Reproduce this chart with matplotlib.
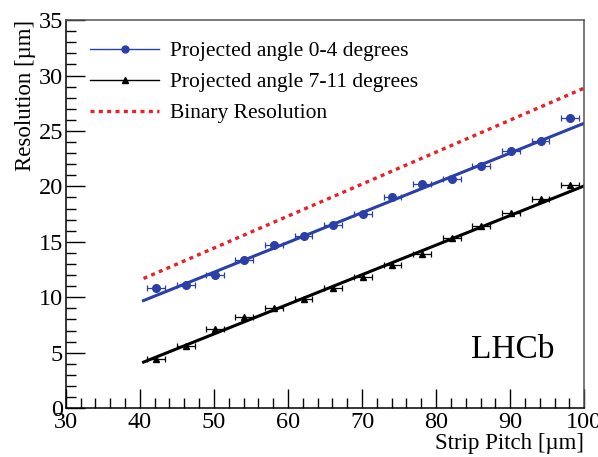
import matplotlib
matplotlib.use("Agg")
import numpy as np
from matplotlib import pyplot as plt
from matplotlib.ticker import MultipleLocator

plt.rcParams['font.family'] = ['Liberation Serif', 'DejaVu Serif']
plt.rcParams['mathtext.fontset'] = 'stix'

# data
pitch = [42.2, 46.2, 50.1, 54.1, 58.1, 62.1, 66.1, 70.1, 74.1, 78.1, 82.1, 86.1, 90.1, 94.1, 98.1]
res_0_4 = [10.8, 11.1, 12.0, 13.4, 14.7, 15.5, 16.5, 17.5, 19.0, 20.2, 20.7, 21.8, 23.2, 24.1, 26.2]
res_7_11 = [4.4, 5.6, 7.1, 8.2, 9.0, 9.8, 10.8, 11.8, 12.9, 13.9, 15.3, 16.4, 17.6, 18.9, 20.1]
pitch_err = [1.2] * 15

fit_x = [40.5, 100.0]
fit_0_4 = [9.7, 25.7]
fit_7_11 = [4.15, 20.05]
binary_res = [11.69, 28.87]

blue = "#2b3fa8"

fig = plt.figure(figsize=(5.98, 4.57), dpi=100)
ax = fig.add_axes([0.110, 0.107, 0.867, 0.849])

ax.plot(fit_x, binary_res, color="#e8202a", lw=2.4, ls=(0, (1.2, 1.3)))
ax.plot(fit_x, fit_0_4, color=blue, lw=2.2)
ax.plot(fit_x, fit_7_11, color="black", lw=2.2)
ax.errorbar(pitch, res_0_4, xerr=pitch_err, fmt="o", color=blue, ms=5.5,
            elinewidth=0.9, capsize=2, capthick=0.9)
ax.errorbar(pitch, res_7_11, xerr=pitch_err, fmt="^", color="black", ms=4.5,
            elinewidth=0.9, capsize=2, capthick=0.9)

# legend handles
h1, = ax.plot([], [], color=blue, lw=1, marker="o", ms=5)
h2, = ax.plot([], [], color="black", lw=1, marker="^", ms=4.5)
h3, = ax.plot([], [], color="#e8202a", lw=2.4, ls=(0, (1.2, 1.3)))
ax.legend([h1, h2, h3], ["Projected angle 0-4 degrees", "Projected angle 7-11 degrees",
                         "Binary Resolution"],
          loc="upper left", bbox_to_anchor=(0.01, 0.995), frameon=False,
          fontsize=15.5, handlelength=3.2, labelspacing=0.5, handletextpad=0.5)

ax.text(0.863, 0.15, "LHCb", transform=ax.transAxes, fontsize=24, ha="center", va="center")

ax.set_xlim(30, 100)
ax.set_ylim(0, 35)
ax.xaxis.set_major_locator(MultipleLocator(10))
ax.xaxis.set_minor_locator(MultipleLocator(2))
ax.yaxis.set_major_locator(MultipleLocator(5))
ax.yaxis.set_minor_locator(MultipleLocator(1))
ax.tick_params(which="both", direction="in", top=False, right=False, labelsize=17.5)
ax.tick_params(which="major", length=14, width=1)
ax.tick_params(which="minor", length=7, width=1)
ax.tick_params(axis="x", pad=3)
ax.tick_params(axis="y", pad=2)
for s in ax.spines.values():
    s.set_linewidth(1.1)
ax.spines["top"].set_color("#555555")
ax.spines["right"].set_color("#555555")

ax.set_xlabel("Strip Pitch [µm]", fontsize=16.5, loc="right", labelpad=0)
ax.set_ylabel("Resolution [µm]", fontsize=16.5, loc="top", labelpad=2)

fig.savefig("out.png", dpi=100)
